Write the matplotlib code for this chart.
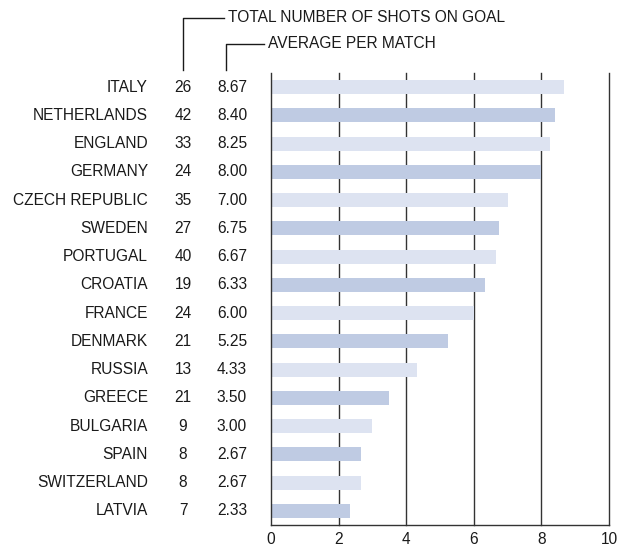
import matplotlib.pyplot as plt
import matplotlib.transforms as mtransforms
from matplotlib.lines import Line2D

plt.rcParams['font.family'] = ['Liberation Sans', 'DejaVu Sans']

# data
negara = ['ITALY', 'NETHERLANDS', 'ENGLAND', 'GERMANY', 'CZECH REPUBLIC', 'SWEDEN',
          'PORTUGAL', 'CROATIA', 'FRANCE', 'DENMARK', 'RUSSIA', 'GREECE',
          'BULGARIA', 'SPAIN', 'SWITZERLAND', 'LATVIA']
total_tembakan = [26, 42, 33, 24, 35, 27, 40, 19, 24, 21, 13, 21, 9, 8, 8, 7]
rata_rata = [8.67, 8.40, 8.25, 8.00, 7.00, 6.75, 6.67, 6.33, 6.00, 5.25,
             4.33, 3.50, 3.00, 2.67, 2.67, 2.33]
xticks = [0, 2, 4, 6, 8, 10]

W, H = 623, 548
FS = 11.2
fig = plt.figure(figsize=(W / 100, H / 100), dpi=100)
ax = fig.add_axes([271 / W, 1 - 525 / H, (609 - 271) / W, (525 - 73) / H])

warna = ['#dde3f1' if i % 2 == 0 else '#bfcbe3' for i in range(len(negara))]
y = list(range(len(negara)))
ax.barh(y, rata_rata, height=0.5, color=warna, zorder=3)

for xv in xticks[1:]:
    ax.axvline(xv, color='#333333', lw=1.0, zorder=1, clip_on=False)

ax.set_xlim(0, 10)
ax.set_ylim(len(negara) - 0.5, -0.5)
ax.set_xticks(xticks)
ax.set_yticks([])
ax.tick_params(axis='x', length=0, labelsize=FS, pad=5, colors='#1a1a1a')
for s in ['top', 'right']:
    ax.spines[s].set_visible(False)
for s in ['left', 'bottom']:
    ax.spines[s].set_color('#333333')
    ax.spines[s].set_linewidth(1.0)
    ax.spines[s].set_zorder(4)

trans = mtransforms.blended_transform_factory(fig.transFigure, ax.transData)
for i in y:
    ax.text(148 / W, i, negara[i], transform=trans, ha='right', va='center',
            fontsize=FS, color='#1a1a1a')
    ax.text(183 / W, i, str(total_tembakan[i]), transform=trans, ha='center',
            va='center', fontsize=FS, color='#1a1a1a')
    ax.text(247 / W, i, f'{rata_rata[i]:.2f}', transform=trans, ha='right',
            va='center', fontsize=FS, color='#1a1a1a')

# header dengan garis penunjuk
def px(x, yy):
    return x / W, 1 - yy / H

for (x0, y0, x1, y1), teks in [((183, 18, 224, 70), 'TOTAL NUMBER OF SHOTS ON GOAL'),
                               ((226, 44, 264, 70), 'AVERAGE PER MATCH')]:
    xs = [px(x0, y1)[0], px(x0, y0)[0], px(x1, y0)[0]]
    ys = [px(x0, y1)[1], px(x0, y0)[1], px(x1, y0)[1]]
    fig.add_artist(Line2D(xs, ys, transform=fig.transFigure, color='#1a1a1a', lw=1.0))
    fig.text(px(x1 + 4, y0)[0], px(x1, y0)[1], teks, ha='left', va='center',
             fontsize=FS, color='#1a1a1a')

fig.savefig('out.png', dpi=100)
